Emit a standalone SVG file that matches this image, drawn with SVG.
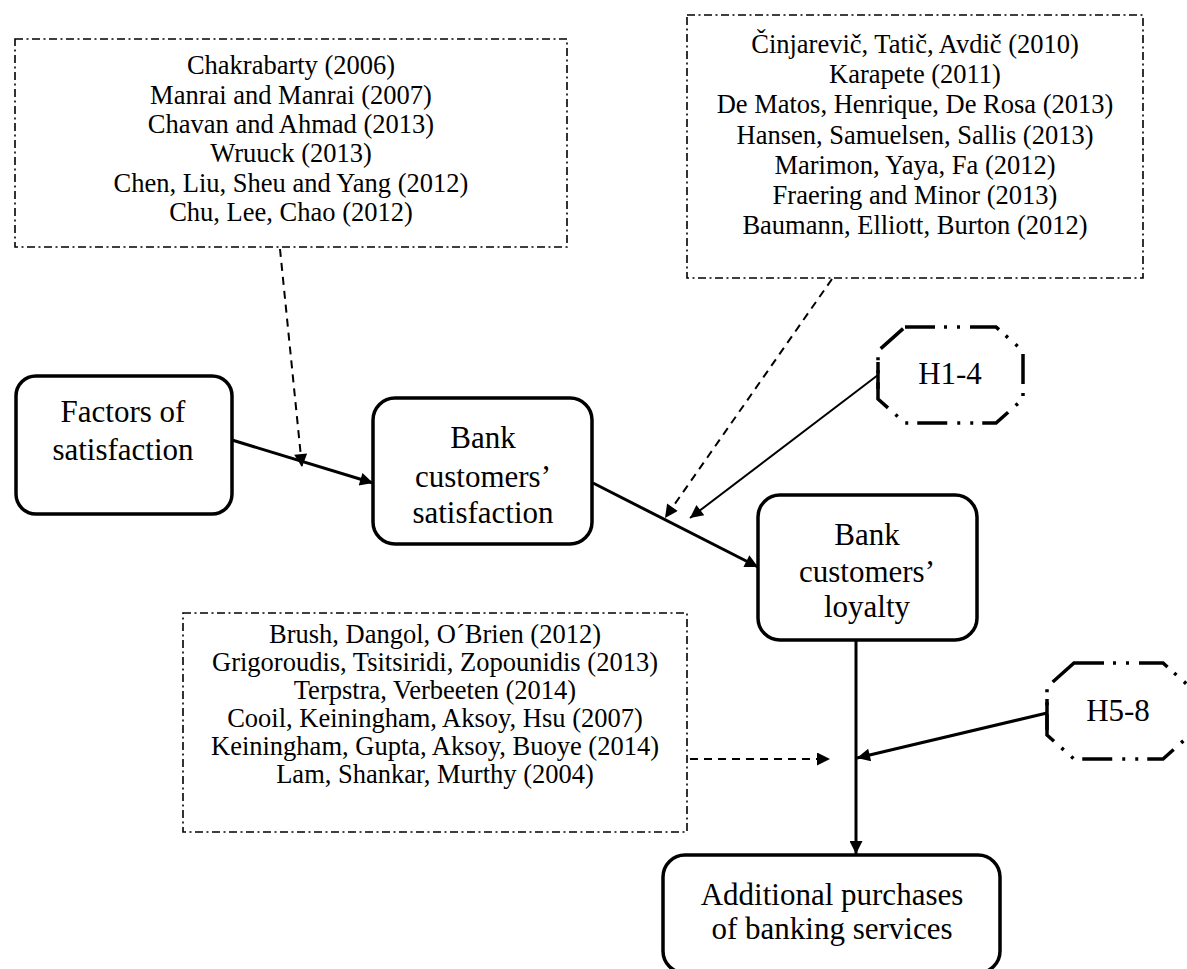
<svg xmlns="http://www.w3.org/2000/svg" width="1187" height="969" viewBox="0 0 1187 969">
<style>
text{font-family:"Liberation Serif","Times New Roman",serif;fill:#000;text-anchor:middle}
.ref{font-size:26.5px}
.nd{font-size:31px}
.refbox{fill:none;stroke:#000;stroke-width:1.6;stroke-dasharray:8 3.5 2 3.5}
.node{fill:#fff;stroke:#000;stroke-width:3.5}
.oct{fill:#fff;stroke:#000;stroke-width:3.5;stroke-dasharray:30 9 3 10 3 10}
.tick{stroke:#000;stroke-width:3.5}
.solid{stroke:#000;stroke-width:3;fill:none}
.thin{stroke:#000;stroke-width:2;fill:none}
.dash{stroke:#000;stroke-width:2;fill:none;stroke-dasharray:8 6}
</style>
<defs>
<marker id="ah" viewBox="0 0 10 10" refX="10" refY="5" markerWidth="17" markerHeight="13" markerUnits="userSpaceOnUse" orient="auto">
<path d="M0,0 L10,5 L0,10 z" fill="#000"/>
</marker>
</defs>
<rect width="1187" height="969" fill="#fff"/>

<g id="refs-satisfaction">
<rect class="refbox" x="15" y="39" width="552" height="208"/>
<text class="ref" x="291" y="74">Chakrabarty (2006)</text>
<text class="ref" x="291" y="104">Manrai and Manrai (2007)</text>
<text class="ref" x="291" y="133">Chavan and Ahmad (2013)</text>
<text class="ref" x="291" y="162">Wruuck (2013)</text>
<text class="ref" x="291" y="192">Chen, Liu, Sheu and Yang (2012)</text>
<text class="ref" x="291" y="221">Chu, Lee, Chao (2012)</text>
</g>

<g id="refs-loyalty">
<rect class="refbox" x="687" y="15" width="456" height="263"/>
<text class="ref" x="915" y="53">Činjarevič, Tatič, Avdič (2010)</text>
<text class="ref" x="915" y="83">Karapete (2011)</text>
<text class="ref" x="915" y="113">De Matos, Henrique, De Rosa (2013)</text>
<text class="ref" x="915" y="144">Hansen, Samuelsen, Sallis (2013)</text>
<text class="ref" x="915" y="174">Marimon, Yaya, Fa (2012)</text>
<text class="ref" x="915" y="204">Fraering and Minor (2013)</text>
<text class="ref" x="915" y="234">Baumann, Elliott, Burton (2012)</text>
</g>

<g id="refs-purchases">
<rect class="refbox" x="183" y="613" width="504" height="219"/>
<text class="ref" x="435" y="643">Brush, Dangol, O´Brien (2012)</text>
<text class="ref" x="435" y="671">Grigoroudis, Tsitsiridi, Zopounidis (2013)</text>
<text class="ref" x="435" y="699">Terpstra, Verbeeten (2014)</text>
<text class="ref" x="435" y="727">Cooil, Keiningham, Aksoy, Hsu (2007)</text>
<text class="ref" x="435" y="755">Keiningham, Gupta, Aksoy, Buoye (2014)</text>
<text class="ref" x="435" y="783">Lam, Shankar, Murthy (2004)</text>
</g>

<g id="factors">
<rect class="node" x="16" y="376" width="216" height="138" rx="20"/>
<text class="nd" x="123" y="422">Factors of</text>
<text class="nd" x="123" y="460">satisfaction</text>
</g>

<g id="satisfaction">
<rect class="node" x="373" y="398" width="219" height="146" rx="22"/>
<text class="nd" x="483" y="448">Bank</text>
<text class="nd" x="483" y="487">customers’</text>
<text class="nd" x="483" y="523">satisfaction</text>
</g>

<g id="loyalty">
<rect class="node" x="758" y="495" width="219" height="145" rx="22"/>
<text class="nd" x="867" y="545">Bank</text>
<text class="nd" x="867" y="582">customers’</text>
<text class="nd" x="867" y="617">loyalty</text>
</g>

<g id="purchases">
<rect class="node" x="663" y="855" width="337" height="118" rx="22"/>
<text class="nd" x="832" y="905">Additional purchases</text>
<text class="nd" x="832" y="939">of banking services</text>
</g>

<g id="h1-4">
<polygon class="oct" points="905,327 996,327 1023,351 1023,399 996,423 905,423 878,399 878,351"/>
<line class="tick" x1="878" y1="362" x2="878" y2="389"/>
<text class="nd" x="950" y="384">H1-4</text>
</g>

<g id="h5-8">
<polygon class="oct" points="1074,663 1163,663 1190,687 1190,735 1163,759 1074,759 1047,735 1047,687"/>
<line class="tick" x1="1047" y1="699" x2="1047" y2="730"/>
<text class="nd" x="1118" y="721">H5-8</text>
</g>

<g id="connectors">
<line class="solid" x1="232" y1="440" x2="373" y2="483" marker-end="url(#ah)"/>
<line class="dash" x1="280" y1="249" x2="302" y2="467" marker-end="url(#ah)"/>
<line class="solid" x1="593" y1="483" x2="758" y2="567" marker-end="url(#ah)"/>
<line class="dash" x1="832" y1="279" x2="665" y2="518" marker-end="url(#ah)"/>
<line class="thin" x1="878" y1="375" x2="690" y2="518" marker-end="url(#ah)"/>
<line class="solid" x1="856" y1="640" x2="856" y2="854" marker-end="url(#ah)"/>
<line class="solid" x1="1047" y1="713" x2="857" y2="758" marker-end="url(#ah)"/>
<line class="dash" x1="690" y1="759" x2="830" y2="759" marker-end="url(#ah)"/>
</g>
</svg>
